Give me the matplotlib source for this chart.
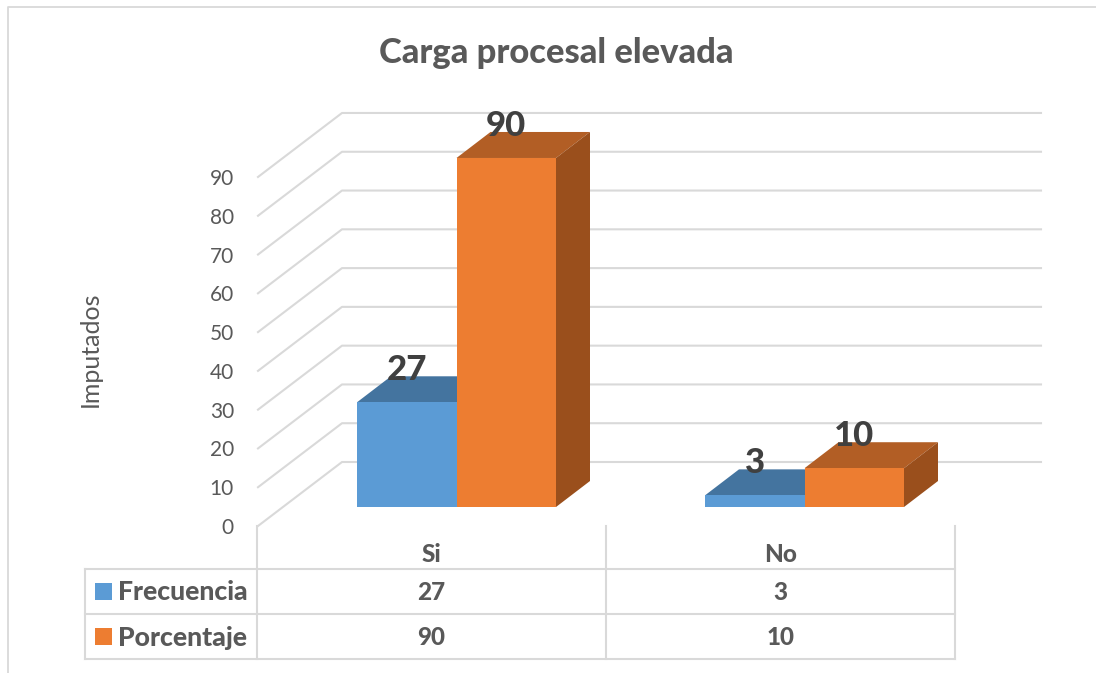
import numpy as np
import matplotlib.pyplot as plt

categories = ['Si', 'No']
series_names = ['Frecuencia', 'Porcentaje']
frecuencia = [27, 3]
porcentaje = [90, 10]
y_ticks = [0, 10, 20, 30, 40, 50, 60, 70, 80, 90]

colors = ['#5B9BD5', '#ED7D31']
top_colors = ['#44749F', '#B25E25']
side_colors = ['#3A6285', '#9A4F1C']
line_color = '#D9D9D9'
text_color = '#595959'
label_color = '#404040'

plt.rcParams['font.family'] = ['Lato', 'DejaVu Sans']

# pixel layout of the picture
px_per_unit = 3.878
front_x, front_y = 258, 526
wall_dx, wall_dy = 84, 64
wall_right = 1041
base_y = 507
depth_dx, depth_dy = 34, 26
table_x = [85, 257, 606, 955]
table_y = [569, 614, 659]
group_left = [357, 705]
bar_w = 99.5

fig = plt.figure(figsize=(10.96, 6.73), dpi=100)
ax = fig.add_axes([0, 0, 1, 1])
ax.set_xlim(0, 1096)
ax.set_ylim(673, 0)
ax.axis('off')

# chart frame
ax.plot([8, 8, 1096], [673, 6.5, 6.5], color=line_color, lw=1.3)

ax.text(556, 53, 'Carga procesal elevada', color=text_color, fontsize=24.8,
        fontweight='black', ha='center', va='center')

# walls and y axis
for v in y_ticks:
    y = front_y - v * px_per_unit
    ax.plot([front_x, front_x + wall_dx, wall_right],
            [y, y - wall_dy, y - wall_dy], color=line_color, lw=1.5)
    ax.text(234, y + 2, str(v), color=text_color, fontsize=15, ha='right', va='center')

ax.text(90, 349, 'Imputados', color=text_color, fontsize=18, rotation=90,
        ha='center', va='center')

# 3d bars
for i, values in enumerate([frecuencia, porcentaje]):
    for j, v in enumerate(values):
        x0 = group_left[j] + i * bar_w
        x1 = x0 + bar_w
        top = base_y - v * px_per_unit
        ax.fill([x0, x1, x1 + depth_dx, x0 + depth_dx],
                [top, top, top - depth_dy, top - depth_dy], color=top_colors[i], lw=0, zorder=3 + i)
        ax.fill([x1, x1 + depth_dx, x1 + depth_dx, x1],
                [top, top - depth_dy, base_y - depth_dy, base_y], color=side_colors[i], lw=0, zorder=3 + i)
        ax.fill([x0, x1, x1, x0], [top, top, base_y, base_y], color=colors[i], lw=0, zorder=3 + i)
        ax.text((x0 + x1) / 2, top - 32, str(v), color=label_color, fontsize=25,
                fontweight='black', ha='center', va='center', zorder=6)

# data table
ax.plot([table_x[1], table_x[1]], [front_y, table_y[2]], color=line_color, lw=1.5)
ax.plot([table_x[2], table_x[2]], [front_y, table_y[2]], color=line_color, lw=1.5)
ax.plot([table_x[3], table_x[3]], [front_y, table_y[2]], color=line_color, lw=1.5)
ax.plot([table_x[0], table_x[0]], [table_y[0], table_y[2]], color=line_color, lw=1.5)
for y in table_y:
    ax.plot([table_x[0], table_x[3]], [y, y], color=line_color, lw=1.5)

for j, cat in enumerate(categories):
    xc = (table_x[j + 1] + table_x[j + 2]) / 2
    ax.text(xc, 555, cat, color=text_color, fontsize=17.5, fontweight='black', ha='center', va='center')

for i, values in enumerate([frecuencia, porcentaje]):
    yc = (table_y[i] + table_y[i + 1]) / 2
    ax.fill([95, 112, 112, 95], [yc - 8.5, yc - 8.5, yc + 8.5, yc + 8.5], color=colors[i], lw=0)
    ax.text(118, yc + 1, series_names[i], color=text_color, fontsize=19.2, fontweight='black',
            ha='left', va='center')
    for j, v in enumerate(values):
        xc = (table_x[j + 1] + table_x[j + 2]) / 2
        ax.text(xc, yc + 1, str(v), color=text_color, fontsize=17.5, fontweight='black',
                ha='center', va='center')

fig.savefig('out.png', dpi=100)
